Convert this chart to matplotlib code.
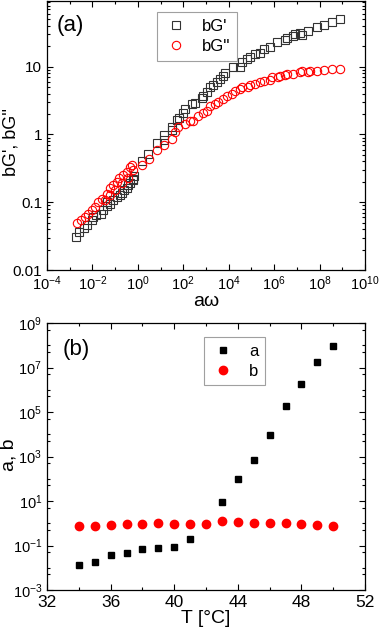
import numpy as np
import matplotlib
matplotlib.use('Agg')
import matplotlib.pyplot as plt
from matplotlib.ticker import FixedLocator, FixedFormatter, FuncFormatter, LogLocator, MultipleLocator, NullFormatter

plt.rcParams['font.family'] = ['Liberation Sans', 'DejaVu Sans']
plt.rcParams['mathtext.fontset'] = 'custom'
plt.rcParams['mathtext.rm'] = 'Liberation Sans'
plt.rcParams['mathtext.it'] = 'Liberation Sans:italic'

# (a) master curves
gp_w = [1.9e-3, 2.6e-3, 4.3e-3, 5.6e-3, 9.3e-3, 0.011, 0.015, 0.023, 0.030, 0.043,
        0.043, 0.060, 0.083, 0.117, 0.164, 0.195, 0.245, 0.32, 0.38, 0.45,
        0.60, 0.63, 0.68, 1.5, 2.9, 6.8, 14, 14, 31, 31,
        52, 67, 100, 120, 237, 330, 650, 770, 1080, 1500,
        2100, 3000, 4200, 5800, 6900, 1.6e4, 3.2e4, 3.8e4, 6.3e4, 8.7e4,
        1.5e5, 2.4e5, 3.4e5, 6.7e5, 1.3e6, 3.0e6, 3.6e6, 7.1e6, 8.5e6, 1.4e7,
        1.7e7, 3.2e7, 7.6e7, 1.5e8, 3.5e8, 8.1e8]
gp = [0.031, 0.036, 0.042, 0.046, 0.055, 0.061, 0.065, 0.068, 0.078, 0.087,
      0.10, 0.093, 0.107, 0.12, 0.127, 0.137, 0.15, 0.164, 0.178, 0.19,
      0.21, 0.22, 0.24, 0.40, 0.52, 0.75, 0.97, 0.84, 1.31, 1.17,
      1.65, 1.75, 2.09, 2.4, 2.8, 2.9, 3.5, 3.7, 4.3, 5.0,
      5.4, 6.0, 6.6, 7.2, 8.2, 9.8, 10, 11.6, 13, 13.7,
      15.4, 16.2, 18.2, 19.7, 22.8, 25, 27, 28.6, 30, 32,
      29, 34, 38, 41, 45, 50]

gpp_w = [2.0e-3, 3.0e-3, 4.7e-3, 6.6e-3, 9.3e-3, 0.013, 0.018, 0.026, 0.036, 0.043,
         0.060, 0.060, 0.083, 0.10, 0.117, 0.15, 0.195, 0.23, 0.32, 0.38,
         0.45, 0.54, 0.63, 1.5, 3.2, 6.8, 14, 31, 44, 61,
         120, 200, 280, 465, 770, 1080, 1500, 2500, 3500, 5800,
         8200, 1.4e4, 1.9e4, 3.2e4, 3.8e4, 7.4e4, 8.8e4, 1.5e5, 2.4e5, 3.4e5,
         6.7e5, 7.9e5, 1.55e6, 1.8e6, 3.0e6, 3.6e6, 7.1e6, 1.4e7, 1.7e7, 3.2e7,
         3.9e7, 7.6e7, 1.5e8, 3.5e8, 8.1e8]
gpp = [0.049, 0.054, 0.061, 0.068, 0.076, 0.085, 0.10, 0.11, 0.107, 0.134,
       0.127, 0.16, 0.178, 0.15, 0.20, 0.23, 0.19, 0.25, 0.28, 0.23,
       0.33, 0.35, 0.30, 0.35, 0.44, 0.60, 0.69, 0.86, 1.08, 1.28,
       1.44, 1.6, 1.6, 1.9, 2.08, 2.25, 2.6, 2.8, 3.05, 3.35,
       3.75, 4.0, 4.4, 4.7, 5.0, 5.0, 5.3, 5.6, 5.9, 6.2,
       6.4, 7.0, 7.0, 7.2, 7.5, 7.8, 7.8, 8.3, 8.7, 8.3,
       8.7, 8.7, 9.0, 9.2, 9.4]

# (b) shift factors
T_a = [34, 35, 36, 37, 38, 39, 40, 41, 43, 44, 45, 46, 47, 48, 49, 50]
a_vals = [0.013, 0.019, 0.037, 0.048, 0.067, 0.074, 0.085, 0.2,
          9.3, 95, 680, 9.5e3, 1.9e5, 1.9e6, 1.8e7, 9.5e7]
T_b = [34, 35, 36, 37, 38, 39, 40, 41, 42, 43, 44, 45, 46, 47, 48, 49, 50]
b_vals = [0.75, 0.75, 0.81, 0.895, 0.925, 1.03, 0.96, 0.96, 0.96,
          1.22, 1.18, 1.06, 1.06, 1.06, 0.96, 0.86, 0.75]


def pow10(v, pos):
    return '$\\mathregular{10^{%d}}$' % int(round(np.log10(v)))


def style(ax):
    ax.tick_params(which='both', direction='in', top=True, right=True, width=0.8)
    ax.tick_params(which='major', length=4, labelsize=11)
    ax.tick_params(which='minor', length=2.5)
    for s in ax.spines.values():
        s.set_linewidth(0.9)


fig = plt.figure(figsize=(3.82, 6.34), dpi=100)

ax1 = fig.add_axes([47 / 382, 1 - 270 / 634, 318 / 382, 269.5 / 634])
ax1.plot(gp_w, gp, ls='none', marker='s', ms=5.5, mfc='none', mec='#333333', mew=0.8, label="bG'")
ax1.plot(gpp_w, gpp, ls='none', marker='o', ms=6, mfc='none', mec='red', mew=0.8, label="bG''")
ax1.set_xscale('log')
ax1.set_yscale('log')
ax1.set_xlim(1e-4, 1e10)
ax1.set_ylim(0.01, 95)
ax1.xaxis.set_major_locator(FixedLocator([10.0 ** e for e in range(-4, 11, 2)]))
ax1.xaxis.set_minor_locator(FixedLocator([10.0 ** e for e in range(-3, 10, 2)]))
ax1.xaxis.set_major_formatter(FuncFormatter(pow10))
ax1.xaxis.set_minor_formatter(NullFormatter())
ax1.yaxis.set_major_locator(FixedLocator([0.01, 0.1, 1, 10]))
ax1.yaxis.set_major_formatter(FixedFormatter(['0.01', '0.1', '1', '10']))
ax1.yaxis.set_minor_locator(LogLocator(base=10, subs=np.arange(2, 10)))
ax1.yaxis.set_minor_formatter(NullFormatter())
style(ax1)
ax1.tick_params(axis='x', which='major', labelsize=10.5)
ax1.set_xlabel('aω', fontsize=14, labelpad=0)
ax1.set_ylabel("bG', bG''", fontsize=13)
ax1.yaxis.set_label_coords(-0.088, 0.476)
ax1.text(0.03, 0.907, '(a)', transform=ax1.transAxes, fontsize=16, va='center')
leg1 = ax1.legend(loc='upper left', bbox_to_anchor=(0.346, 0.956), fontsize=12, frameon=True,
                  fancybox=False, borderpad=0.4, handlelength=1.5, handletextpad=0.8,
                  labelspacing=0.3, borderaxespad=0, numpoints=1)
leg1.get_frame().set_edgecolor('#888888')
leg1.get_frame().set_linewidth(0.8)

ax2 = fig.add_axes([47 / 382, 1 - 590 / 634, 318 / 382, 267 / 634])
ax2.plot(T_a, a_vals, ls='none', marker='s', ms=5, color='black', label='a')
ax2.plot(T_b, b_vals, ls='none', marker='o', ms=6, color='red', mec='red', label='b')
ax2.set_yscale('log')
ax2.set_xlim(32, 52)
ax2.set_ylim(1e-3, 1e9)
ax2.xaxis.set_major_locator(MultipleLocator(4))
ax2.xaxis.set_minor_locator(MultipleLocator(2))
ax2.yaxis.set_major_locator(FixedLocator([10.0 ** e for e in range(-3, 10, 2)]))
ax2.yaxis.set_major_formatter(FuncFormatter(pow10))
minor_b = [10.0 ** e for e in range(-2, 9, 2)] + [5 * 10.0 ** e for e in range(-3, 9)]
ax2.yaxis.set_minor_locator(FixedLocator(minor_b))
ax2.yaxis.set_minor_formatter(NullFormatter())
style(ax2)
ax2.tick_params(axis='y', which='major', labelsize=10.5)
ax2.tick_params(axis='x', which='major', labelsize=12.5)
ax2.set_xlabel('T [°C]', fontsize=14, labelpad=0)
ax2.set_ylabel('a, b', fontsize=14)
ax2.yaxis.set_label_coords(-0.093, 0.506)
ax2.text(0.05, 0.899, '(b)', transform=ax2.transAxes, fontsize=16, va='center')
leg2 = ax2.legend(loc='upper left', bbox_to_anchor=(0.494, 0.948), fontsize=12, frameon=True,
                  fancybox=False, borderpad=0.4, handlelength=1.5, handletextpad=0.8,
                  labelspacing=0.3, borderaxespad=0, numpoints=1)
leg2.get_frame().set_edgecolor('#888888')
leg2.get_frame().set_linewidth(0.8)

fig.savefig('out.png', dpi=100)
